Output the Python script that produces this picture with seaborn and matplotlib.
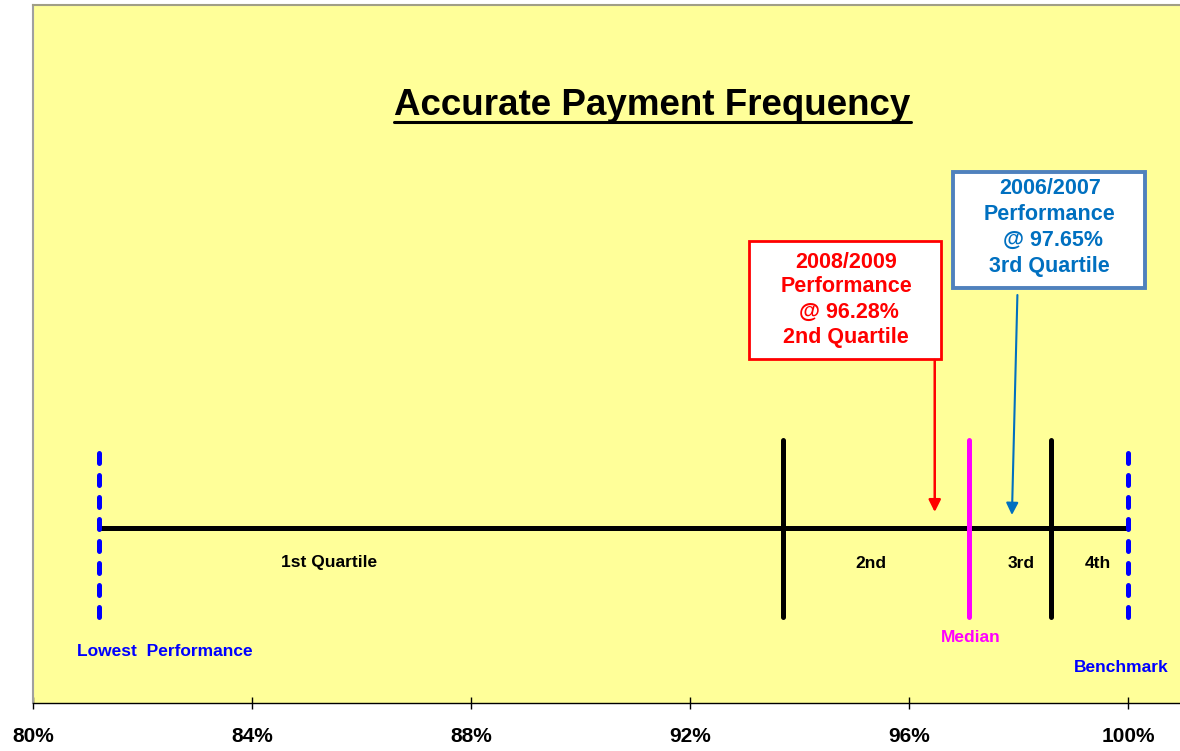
import matplotlib
matplotlib.use("Agg")
import matplotlib.pyplot as plt
import seaborn as sns
import pandas as pd
from matplotlib.patches import Rectangle
from matplotlib.lines import Line2D

# ---------------- data ----------------
title = "Accurate Payment Frequency"
tick_values = [80, 84, 88, 92, 96, 100]
tick_labels = ["80%", "84%", "88%", "92%", "96%", "100%"]

lowest_performance = 81.2
quartile_1 = 93.7
median = 97.1
quartile_3 = 98.6
benchmark = 100.0

segment_labels = ["1st Quartile", "2nd", "3rd", "4th"]
segment_label_x = [85.41, 95.31, 98.05, 99.45]

perf_2008_lines = ["2008/2009", "Performance", " @ 96.28%", "2nd Quartile"]
perf_2008_arrow_x = 96.47
perf_2006_lines = ["2006/2007", "Performance", " @ 97.65%", "3rd Quartile"]
perf_2006_arrow_x = (97.98, 97.88)

# ---------------- style ----------------
sns.set_theme(style="white")
plt.rcParams["font.family"] = ["Liberation Sans", "DejaVu Sans"]
plt.rcParams["font.weight"] = "bold"

fig = plt.figure(figsize=(11.8, 7.51), dpi=100)
fig.patch.set_facecolor("white")
W, H = 1180, 751
ax = fig.add_axes([33 / W, 48 / H, (W - 33) / W, 698 / H])
ax.set_facecolor("#FFFF99")
ax.set_xlim(80, 80 + 1147 / 54.75)
ax.set_ylim(0, 698)

# scale line
scale_df = pd.DataFrame({"x": [lowest_performance, benchmark], "y": [175, 175]})
sns.lineplot(data=scale_df, x="x", y="y", ax=ax, color="black", linewidth=3.6,
             solid_capstyle="round", legend=False)

# quartile boundaries
for xv, col in [(quartile_1, "black"), (median, "#FF00FF"), (quartile_3, "black")]:
    ax.plot([xv, xv], [86, 263], color=col, linewidth=3.6, solid_capstyle="round", zorder=3)

for xv in [lowest_performance, benchmark]:
    ax.plot([xv, xv], [86, 254], color="#0000FF", linewidth=3.6, linestyle=(0, (2.0, 2.4)),
            dash_capstyle="round", zorder=4)

# segment labels
for lab, xv in zip(segment_labels, segment_label_x):
    ax.text(xv, 140, lab, ha="center", va="center", fontsize=12.5, fontweight="bold", color="black")

ax.text(82.41, 51, "Lowest  Performance", ha="center", va="center", fontsize=12.5,
        fontweight="bold", color="#0000FF")
ax.text(97.13, 65, "Median", ha="center", va="center", fontsize=12.5,
        fontweight="bold", color="#FF00FF")
ax.text(99.87, 35, "Benchmark", ha="center", va="center", fontsize=12.5,
        fontweight="bold", color="#0000FF")

# annotation boxes
ax.add_patch(Rectangle((93.08, 344), 96.58 - 93.08, 118, facecolor="white",
                       edgecolor="#FF0000", linewidth=2.0, zorder=5))
for i, line in enumerate(perf_2008_lines):
    ax.text(94.85, 703 - (262 + 25 * i), line, ha="center", va="center", fontsize=15.5,
            fontweight="bold", color="#FF0000", zorder=6)

ax.add_patch(Rectangle((96.80, 415), 100.31 - 96.80, 116, facecolor="white",
                       edgecolor="#4F81BD", linewidth=2.8, zorder=5))
for i, line in enumerate(perf_2006_lines):
    ax.text(98.57, 703 - (189 + 25.7 * i), line, ha="center", va="center", fontsize=15.5,
            fontweight="bold", color="#0070C0", zorder=6)

# arrows
ax.annotate("", xy=(perf_2008_arrow_x, 191), xytext=(perf_2008_arrow_x, 343),
            arrowprops=dict(arrowstyle="-|>,head_length=0.6,head_width=0.3",
                            color="#FF0000", linewidth=1.8, shrinkA=0, shrinkB=0), zorder=6)
ax.annotate("", xy=(perf_2006_arrow_x[1], 188), xytext=(perf_2006_arrow_x[0], 408),
            arrowprops=dict(arrowstyle="-|>,head_length=0.6,head_width=0.3",
                            color="#0070C0", linewidth=1.5, shrinkA=0, shrinkB=0), zorder=6)

# axis formatting
ax.set_xticks(tick_values)
ax.set_xticklabels(tick_labels, fontsize=15, fontweight="bold", color="black")
ax.set_yticks([])
ax.set_xlabel("")
ax.set_ylabel("")
ax.tick_params(axis="x", direction="inout", length=8.6, width=1, color="black", pad=13,
               bottom=True)
ax.spines["right"].set_visible(False)
ax.spines["bottom"].set_color("black")
ax.spines["bottom"].set_linewidth(1.0)
ax.spines["left"].set_color("#A0A0A0")
ax.spines["left"].set_linewidth(1.5)
ax.spines["top"].set_color("#A09E86")
ax.spines["top"].set_linewidth(1.5)

# title with underline
t = ax.text(0.54, (703 - 115) / 698, title, transform=ax.transAxes, ha="center",
            va="baseline", fontsize=26.5, fontweight="bold", color="black")
fig.canvas.draw()
bb = t.get_window_extent(renderer=fig.canvas.get_renderer())
y_ul = (H - 122) / H
fig.add_artist(Line2D([bb.x0 / W, bb.x1 / W], [y_ul, y_ul], color="black",
                      linewidth=2.2, transform=fig.transFigure))

fig.savefig("out.png", dpi=100, facecolor="white")
